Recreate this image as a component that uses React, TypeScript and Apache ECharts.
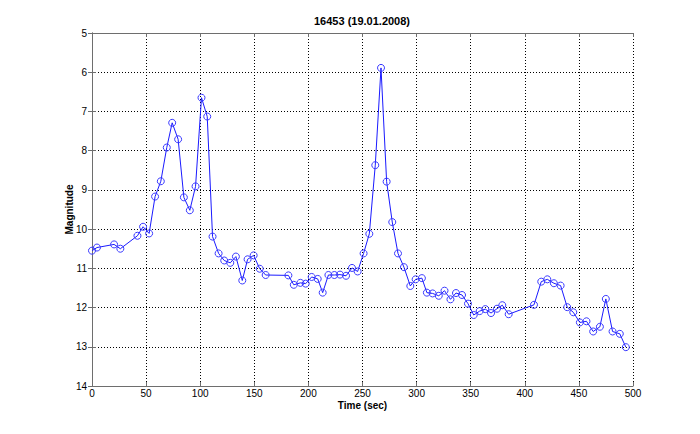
import React, { useEffect, useRef } from "react";
import * as echarts from "echarts";

const titleText = "16453 (19.01.2008)";
const xName = "Time (sec)";
const yName = "Magnitude";

const times = [
  0, 4.6, 20.4, 26.2, 42, 47.2, 52.8, 58.3, 63.6, 69.1,
  74.1, 79.6, 84.9, 90.4, 95.7, 101.2, 106.5, 111.4, 117, 122.2,
  127.8, 133, 138.9, 143.8, 149.4, 155, 160.5, 181.5, 186.5, 192.6,
  197.5, 203, 208.6, 213.2, 218.5, 224, 229.2, 234.8, 240.3, 245.5,
  251, 256.3, 261.8, 267.1, 272.3, 277.5, 282.8, 288.3, 294.2, 299.1,
  304.9, 309.5, 314.8, 320.5, 325.8, 331.3, 336.4, 342, 347.5, 352.8,
  358.3, 363.5, 368.8, 374.3, 379.2, 385.1, 408.5, 415.2, 420.8, 426.9,
  433.1, 439.2, 444.8, 450.9, 457, 463.2, 469.4, 474.9, 481.1, 487.8,
  493.4,
];

const magnitudes = [
  10.55, 10.47, 10.39, 10.5, 10.17, 9.94, 10.11, 9.17, 8.78, 7.92,
  7.29, 7.71, 9.19, 9.52, 8.91, 6.65, 7.13, 10.19, 10.62, 10.8,
  10.86, 10.7, 11.31, 10.77, 10.67, 11.01, 11.17, 11.18, 11.42, 11.37,
  11.39, 11.22, 11.27, 11.62, 11.17, 11.17, 11.16, 11.19, 10.99, 11.08,
  10.62, 10.12, 8.37, 5.89, 8.79, 9.82, 10.62, 10.97, 11.45, 11.28,
  11.25, 11.62, 11.64, 11.7, 11.57, 11.79, 11.63, 11.68, 11.9, 12.19,
  12.09, 12.04, 12.14, 12.03, 11.94, 12.17, 11.93, 11.34, 11.28, 11.38,
  11.44, 11.99, 12.12, 12.38, 12.35, 12.61, 12.49, 11.78, 12.61, 12.67,
  13.01,
];

const X_MIN = 0, X_MAX = 500, X_STEP = 50;
const Y_MIN = 5, Y_MAX = 14, Y_STEP = 1;

const FONT = "'Liberation Sans', Arial, sans-serif";

export default function App() {
  const ref = useRef<HTMLDivElement>(null);
  useEffect(() => {
    if (!ref.current) return;
    const chart = echarts.init(ref.current, undefined, { renderer: "svg" });
    const gridLine = { show: true, lineStyle: { color: "#000", type: [1, 2] as any, width: 1 } };
    const axisLine = { show: true, lineStyle: { color: "#6e6e6e", width: 1 } };
    const tick = { show: true, inside: true, length: 4, lineStyle: { color: "#6e6e6e" } };
    const label = { color: "#000", fontFamily: FONT, fontSize: 10 };
    chart.setOption({
      animation: false,
      backgroundColor: "#fff",
      textStyle: { fontFamily: FONT },
      grid: { left: 92, right: 67, top: 33, bottom: 48, show: false },
      graphic: [
        {
          type: "text",
          x: 362,
          y: 21,
          style: {
            text: titleText,
            fontFamily: FONT,
            fontSize: 11,
            fontWeight: "bold",
            fill: "#000",
            align: "center",
            verticalAlign: "middle",
          },
        },
      ],
      xAxis: [
        {
          type: "value",
          min: X_MIN,
          max: X_MAX,
          interval: X_STEP,
          position: "bottom",
          name: xName,
          nameLocation: "middle",
          nameGap: 14,
          nameMoveOverlap: false,
          nameTextStyle: { color: "#000", fontFamily: FONT, fontSize: 10, fontWeight: "bold" },
          axisLine,
          axisTick: tick,
          axisLabel: { ...label, margin: 2 },
          splitLine: gridLine,
        },
        {
          type: "value",
          min: X_MIN,
          max: X_MAX,
          interval: X_STEP,
          position: "top",
          axisLine,
          axisTick: tick,
          axisLabel: { show: false },
          splitLine: { show: false },
        },
      ],
      yAxis: [
        {
          type: "value",
          inverse: true,
          min: Y_MIN,
          max: Y_MAX,
          interval: Y_STEP,
          position: "left",
          name: yName,
          nameLocation: "middle",
          nameGap: 18,
          nameMoveOverlap: false,
          nameTextStyle: { color: "#000", fontFamily: FONT, fontSize: 10, fontWeight: "bold" },
          axisLine,
          axisTick: tick,
          axisLabel: { ...label, margin: 5 },
          splitLine: gridLine,
        },
        {
          type: "value",
          inverse: true,
          min: Y_MIN,
          max: Y_MAX,
          interval: Y_STEP,
          position: "right",
          axisLine,
          axisTick: tick,
          axisLabel: { show: false },
          splitLine: { show: false },
        },
      ],
      series: [
        {
          type: "line",
          xAxisIndex: 0,
          yAxisIndex: 0,
          data: times.map((t, i) => [t, magnitudes[i]]),
          symbol: "circle",
          symbolSize: 7,
          showAllSymbol: true,
          lineStyle: { color: "#1a1aff", width: 1 },
          itemStyle: { color: "rgba(0,0,0,0)", borderColor: "#3a3aff", borderWidth: 1 },
          emphasis: { disabled: true },
        },
      ],
    });
    return () => chart.dispose();
  }, []);
  return (
    <div
      ref={ref}
      style={{ position: "absolute", left: 0, top: 0, width: 700, height: 434, background: "#fff" }}
    />
  );
}
